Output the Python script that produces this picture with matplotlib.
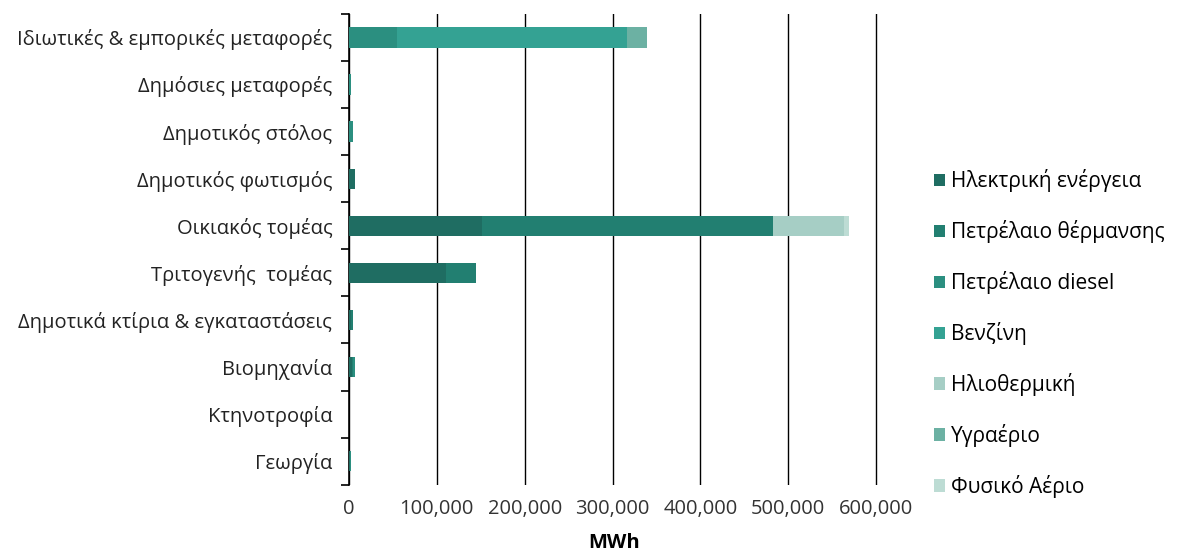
import matplotlib.pyplot as plt
import numpy as np
from matplotlib.ticker import FuncFormatter, FixedLocator

# Κατανάλωση ενέργειας ανά τομέα (MWh)
sectors = ["Ιδιωτικές & εμπορικές μεταφορές", "Δημόσιες μεταφορές", "Δημοτικός στόλος",
           "Δημοτικός φωτισμός", "Οικιακός τομέας", "Τριτογενής  τομέας",
           "Δημοτικά κτίρια & εγκαταστάσεις", "Βιομηχανία", "Κτηνοτροφία", "Γεωργία"]

fuels = ["Ηλεκτρική ενέργεια", "Πετρέλαιο θέρμανσης", "Πετρέλαιο diesel", "Βενζίνη",
         "Ηλιοθερμική", "Υγραέριο", "Φυσικό Αέριο"]

electricity = [0, 0, 0, 6500, 151000, 111000, 2500, 4000, 0, 1000]
heating_oil = [0, 0, 0, 0, 332000, 34000, 2000, 1000, 0, 0]
diesel = [54500, 2500, 4500, 0, 0, 0, 0, 2000, 0, 1500]
petrol = [261500, 0, 500, 0, 0, 0, 0, 0, 0, 0]
solar = [0, 0, 0, 0, 81000, 0, 0, 0, 0, 0]
lpg = [23000, 0, 0, 0, 0, 0, 0, 0, 0, 0]
natural_gas = [0, 0, 0, 0, 5500, 0, 0, 0, 0, 0]

series = [electricity, heating_oil, diesel, petrol, solar, lpg, natural_gas]
colors = ["#1f6d62", "#227f71", "#2b8f80", "#34a293", "#a6cec5", "#6cb1a3", "#bddcd4"]

plt.rcParams['font.family'] = ['Open Sans', 'DejaVu Sans']

fig = plt.figure(figsize=(11.85, 5.54), dpi=100)
ax = fig.add_axes([0.2945, 0.125, 0.447, 0.85])

y = np.arange(len(sectors))
left = np.zeros(len(sectors))
for name, vals, c in zip(fuels, series, colors):
    ax.barh(y, vals, left=left, height=0.43, color=c, label=name, zorder=3)
    left += np.array(vals)

ax.set_ylim(len(sectors) - 0.5, -0.5)
ax.set_xlim(0, 603000)
ax.set_xticks(np.arange(0, 600001, 100000))
ax.xaxis.set_major_formatter(FuncFormatter(lambda v, p: f"{int(v):,}"))
ax.grid(axis='x', color='black', linewidth=1.0, zorder=0)
ax.tick_params(axis='x', length=0, labelsize=14.5, colors='#333333', pad=10)

ax.set_yticks(y)
ax.set_yticklabels(sectors, fontsize=14.5, color='#222222')
ax.tick_params(axis='y', which='major', length=0, pad=12)
ax.yaxis.set_minor_locator(FixedLocator(np.arange(-0.5, len(sectors), 1.0)))
ax.tick_params(axis='y', which='minor', length=6, width=1.2, color='black')

for s in ['top', 'right', 'bottom']:
    ax.spines[s].set_visible(False)
ax.spines['left'].set_linewidth(1.2)

ax.set_xlabel("MWh", fontsize=14.5, fontweight='bold', labelpad=10)

handles, labels = ax.get_legend_handles_labels()
fig.legend(handles, labels, loc='upper left', bbox_to_anchor=(0.772, 0.728),
           frameon=False, fontsize=15, handlelength=0.55, handleheight=0.55,
           handletextpad=0.3, labelspacing=1.34)

fig.savefig("out.png", dpi=100)
